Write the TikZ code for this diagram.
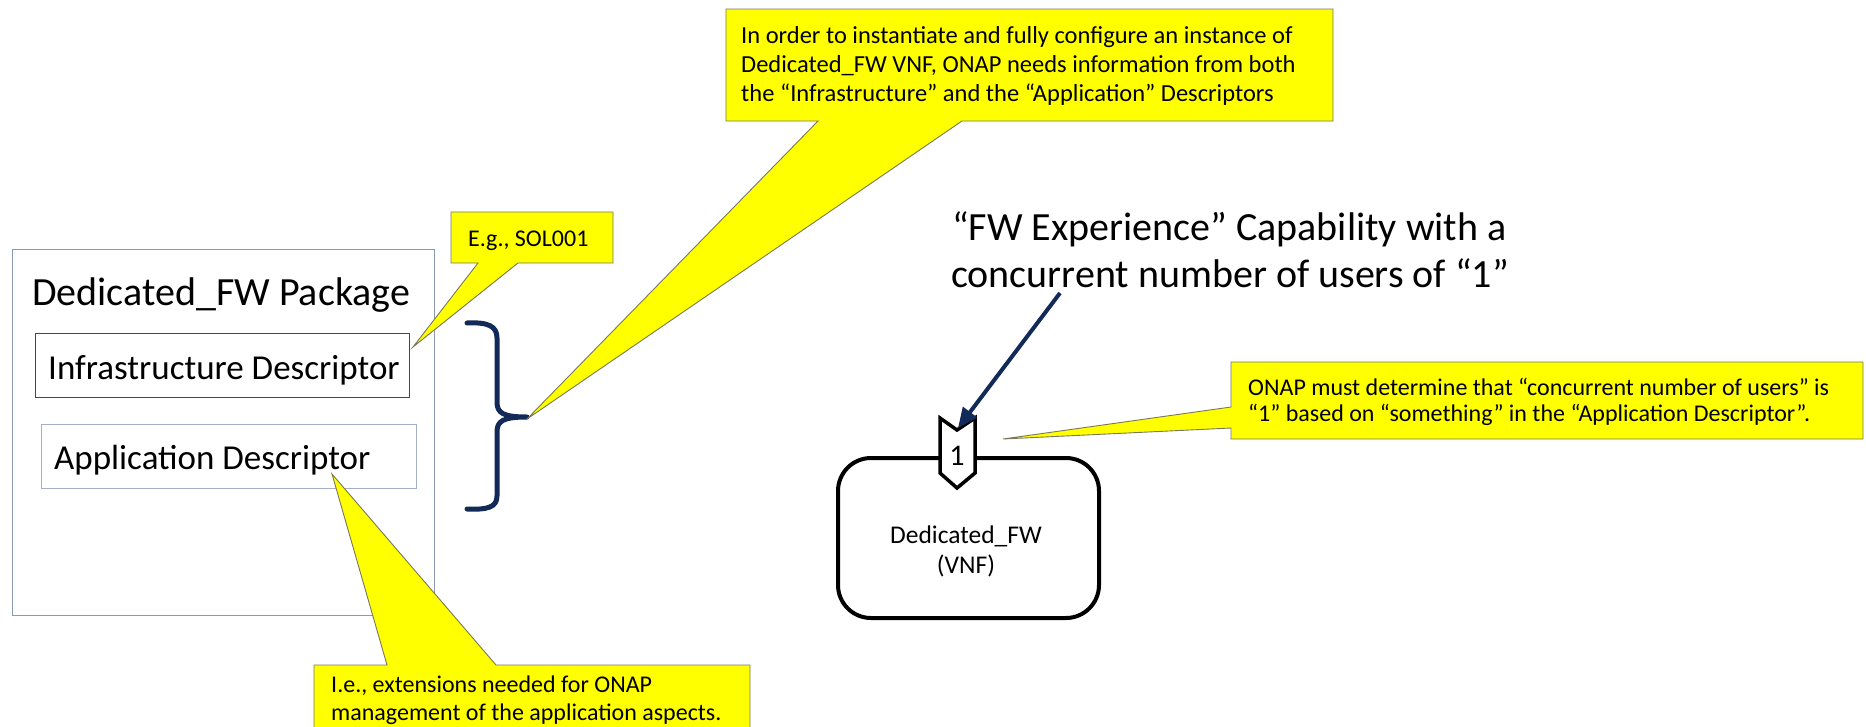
\documentclass[tikz,border=0pt]{standalone}
\usepackage{fontspec}
\setmainfont{Carlito}
\usetikzlibrary{arrows.meta}
\definecolor{callfill}{RGB}{255,255,0}
\definecolor{callline}{RGB}{120,120,90}
\definecolor{navy}{RGB}{17,42,88}
\definecolor{pkgline}{RGB}{140,152,178}
\definecolor{infline}{RGB}{55,70,115}
\definecolor{appline}{RGB}{165,176,198}
\begin{document}
\begin{tikzpicture}[x=1pt,y=-1pt,
  callout/.style={fill=callfill,draw=callline,line width=0.9pt,line join=miter},
  ctext/.style={anchor=base west,inner sep=0pt,font=\fontsize{24}{28}\selectfont},
  bigtext/.style={anchor=base west,inner sep=0pt,font=\fontsize{40}{47}\selectfont},
  desctext/.style={anchor=base west,inner sep=0pt,font=\fontsize{35}{42}\selectfont},
  framebox/.style={anchor=north west,inner sep=0pt,line width=1.2pt},
  vnftext/.style={anchor=base,inner sep=0pt,font=\fontsize{25.5}{30}\selectfont}
]
\useasboundingbox (0,0) rectangle (1866,726);

% package
\node[framebox,draw=pkgline,minimum width=422pt,minimum height=366pt] (pkg) at (12,249) {};
\node[bigtext] (pkgtitle) at (32,305) {Dedicated\_FW Package};
\node[framebox,draw=infline,minimum width=374pt,minimum height=64pt] (infra) at (35,333) {};
\node[desctext] (infratext) at (48,379) {Infrastructure Descriptor};
\node[framebox,draw=appline,minimum width=375pt,minimum height=64pt] (app) at (41,424) {};
\node[desctext] (apptext) at (54,469) {Application Descriptor};

% bracket
\draw[navy,line width=5pt,line cap=round,line join=round]
  (467,323) .. controls (488,322) and (497,326) .. (497,338) -- (497,402)
  .. controls (497,413) and (503,417) .. (527,417)
  .. controls (503,417) and (497,421) .. (497,432) -- (497,496)
  .. controls (497,507) and (488,510) .. (467,509);
\coordinate (brtip) at (527,419);

% top callout
\draw[callout] (726,9) -- (1333,9) -- (1333,121) -- (962,121) -- (brtip) -- (818,121) -- (726,121) -- cycle;
\node[ctext,font=\fontsize{24.5}{29}\selectfont] (topl1) at (741,43) {In order to instantiate and fully configure an instance of};
\node[ctext,font=\fontsize{24.5}{29}\selectfont] (topl2) at (741,72) {Dedicated\_FW VNF, ONAP needs information from both};
\node[ctext,font=\fontsize{24.5}{29}\selectfont] (topl3) at (741,101) {the “Infrastructure” and the “Application” Descriptors};

% E.g. callout
\coordinate (egtip) at (413,347);
\draw[callout] (451,212) -- (613,212) -- (613,263) -- (518,263) -- (egtip) -- (478,263) -- (451,263) -- cycle;
\node[ctext] (egtext) at (468,246) {E.g., SOL001};

% bottom callout
\coordinate (ietip) at (332,474);
\draw[callout] (314,665) -- (387,665) -- (ietip) -- (496,665) -- (750,665) -- (750,740) -- (314,740) -- cycle;
\node[ctext] (iel1) at (331,692) {I.e., extensions needed for ONAP};
\node[ctext] (iel2) at (331,720) {management of the application aspects.};

% right callout
\coordinate (ontip) at (1003,439);
\draw[callout] (1231,362) -- (1863,362) -- (1863,439) -- (1231,439) -- (1231,428) -- (ontip) -- (1231,407) -- cycle;
\node[ctext] (onl1) at (1248,395) {ONAP must determine that “concurrent number of users” is};
\node[ctext] (onl2) at (1248,421) {“1” based on “something” in the “Application Descriptor”.};

% VNF
\node[draw=black,line width=4pt,rounded corners=33pt,minimum width=261pt,minimum height=160pt,anchor=north west,inner sep=0pt] (vnf) at (836,456) {};
\node[vnftext] (vnfl1) at (966,543) {Dedicated\_FW};
\node[vnftext] (vnfl2) at (966,573) {(VNF)};

% chevron port
\draw[fill=white,draw=black,line width=3.5pt,line join=miter]
  (940,418) -- (957,430) -- (975,418) -- (975,473) -- (957,488) -- (940,473) -- cycle;
\node[anchor=base,inner sep=0pt,font=\fontsize{30}{34}\selectfont] (portnum) at (957,465) {1};
\coordinate (chevtip) at (958,428);

% capability text and arrow
\node[bigtext] (fwl1) at (952,240) {“FW Experience” Capability with a};
\node[bigtext] (fwl2) at (951,287) {concurrent number of users of “1”};
\coordinate (arrstart) at (1060,293);
\draw[navy,line width=4pt,-{Triangle[length=20pt,width=17pt]}] (arrstart) -- (chevtip);
\end{tikzpicture}
\end{document}
